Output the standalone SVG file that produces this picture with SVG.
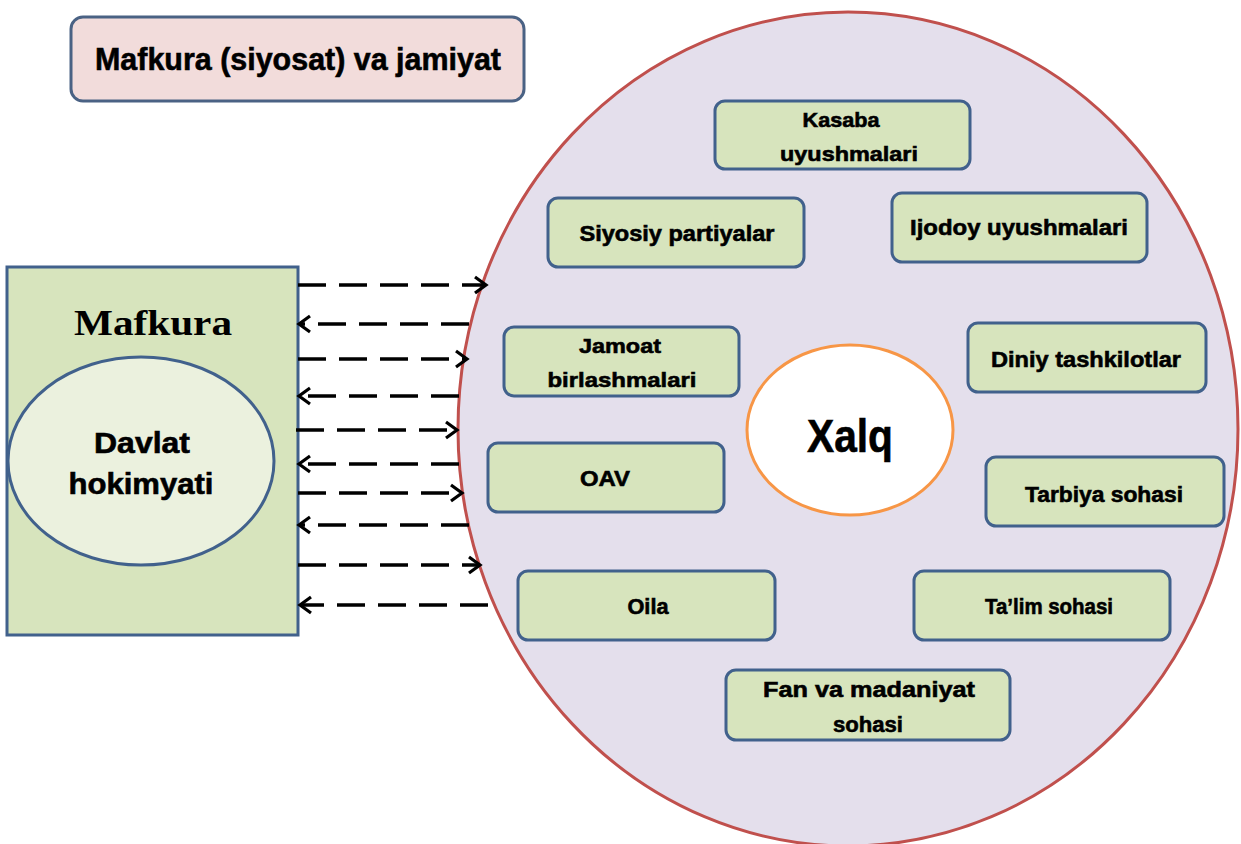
<svg xmlns="http://www.w3.org/2000/svg" width="1241" height="844" viewBox="0 0 1241 844">
<defs>
<marker id="arr" markerUnits="userSpaceOnUse" markerWidth="18" markerHeight="20" refX="13" refY="10" orient="auto">
<path d="M2,2 L13,10 L2,18" fill="none" stroke="#000" stroke-width="3.2" stroke-linejoin="miter"/>
</marker>
<style>
.t{font-family:"Liberation Sans",Arial,sans-serif;font-weight:bold;fill:#000;stroke:#000;stroke-width:0.6;text-anchor:middle}
.box{fill:#d7e4bd;stroke:#41618c;stroke-width:3}
.conn line{stroke:#000;stroke-width:3.4;stroke-dasharray:28 13;marker-end:url(#arr)}
</style>
</defs>
<rect width="1241" height="844" fill="#fff"/>
<g id="title">
<rect x="71" y="17" width="453" height="84" rx="12" fill="#f2dcdb" stroke="#4a6284" stroke-width="3"/>
<text class="t" x="298" y="70" font-size="32" textLength="406" lengthAdjust="spacingAndGlyphs">Mafkura (siyosat) va jamiyat</text>
</g>
<g id="jamiyat">
<ellipse cx="848" cy="429" rx="390" ry="417" fill="#e4dfec" stroke="#c0504d" stroke-width="3"/>
</g>
<g id="mafkura">
<rect x="7" y="267" width="291" height="368" fill="#d7e4bd" stroke="#41618c" stroke-width="3"/>
<text x="153" y="335" font-family="Liberation Serif,'Times New Roman',serif" font-weight="bold" font-size="35" text-anchor="middle" textLength="158" lengthAdjust="spacingAndGlyphs">Mafkura</text>
</g>
<g id="davlat">
<ellipse cx="141" cy="461" rx="133" ry="104" fill="#ebf1de" stroke="#41618c" stroke-width="3"/>
<text class="t" x="142" y="453" font-size="29" textLength="96" lengthAdjust="spacingAndGlyphs">Davlat</text>
<text class="t" x="141" y="494" font-size="29" textLength="145" lengthAdjust="spacingAndGlyphs">hokimyati</text>
</g>
<g id="kasaba">
<rect class="box" x="715" y="101" width="255" height="68" rx="10"/>
<text class="t" x="841" y="127" font-size="21" textLength="77" lengthAdjust="spacingAndGlyphs">Kasaba</text>
<text class="t" x="849" y="161" font-size="21" textLength="138" lengthAdjust="spacingAndGlyphs">uyushmalari</text>
</g>
<g id="siyosiy">
<rect class="box" x="548" y="198" width="256" height="69" rx="10"/>
<text class="t" x="677" y="241" font-size="22" textLength="195" lengthAdjust="spacingAndGlyphs">Siyosiy partiyalar</text>
</g>
<g id="ijodoy">
<rect class="box" x="892" y="193" width="255" height="69" rx="10"/>
<text class="t" x="1019" y="235" font-size="22" textLength="218" lengthAdjust="spacingAndGlyphs">Ijodoy uyushmalari</text>
</g>
<g id="jamoat">
<rect class="box" x="504" y="327" width="235" height="69" rx="10"/>
<text class="t" x="620" y="353" font-size="21" textLength="82" lengthAdjust="spacingAndGlyphs">Jamoat</text>
<text class="t" x="622" y="387" font-size="21" textLength="149" lengthAdjust="spacingAndGlyphs">birlashmalari</text>
</g>
<g id="diniy">
<rect class="box" x="968" y="323" width="238" height="69" rx="10"/>
<text class="t" x="1086" y="367" font-size="22" textLength="190" lengthAdjust="spacingAndGlyphs">Diniy tashkilotlar</text>
</g>
<g id="xalq">
<ellipse cx="850" cy="430" rx="103" ry="85" fill="#fff" stroke="#f79646" stroke-width="3"/>
<text class="t" x="850" y="452" font-size="46" textLength="86" lengthAdjust="spacingAndGlyphs">Xalq</text>
</g>
<g id="oav">
<rect class="box" x="488" y="443" width="236" height="69" rx="10"/>
<text class="t" x="605" y="486" font-size="22" textLength="50" lengthAdjust="spacingAndGlyphs">OAV</text>
</g>
<g id="tarbiya">
<rect class="box" x="986" y="457" width="238" height="69" rx="10"/>
<text class="t" x="1104" y="502" font-size="22" textLength="158" lengthAdjust="spacingAndGlyphs">Tarbiya sohasi</text>
</g>
<g id="oila">
<rect class="box" x="518" y="571" width="257" height="69" rx="10"/>
<text class="t" x="648" y="614" font-size="22" textLength="41" lengthAdjust="spacingAndGlyphs">Oila</text>
</g>
<g id="talim">
<rect class="box" x="914" y="571" width="256" height="69" rx="10"/>
<text class="t" x="1049" y="614" font-size="22" textLength="128" lengthAdjust="spacingAndGlyphs">Ta’lim sohasi</text>
</g>
<g id="fan">
<rect class="box" x="726" y="670" width="284" height="70" rx="10"/>
<text class="t" x="869" y="697" font-size="22" textLength="212" lengthAdjust="spacingAndGlyphs">Fan va madaniyat</text>
<text class="t" x="868" y="732" font-size="22" textLength="70" lengthAdjust="spacingAndGlyphs">sohasi</text>
</g>
<g id="connectors" class="conn">
<line x1="298" y1="285" x2="486" y2="285"/>
<line x1="469" y1="324" x2="299" y2="324"/>
<line x1="298" y1="359" x2="467" y2="359"/>
<line x1="459" y1="396" x2="299" y2="396"/>
<line x1="296" y1="430" x2="457" y2="430"/>
<line x1="459" y1="464" x2="299" y2="464"/>
<line x1="298" y1="493" x2="462" y2="493"/>
<line x1="469" y1="525" x2="299" y2="525"/>
<line x1="298" y1="565" x2="480" y2="565"/>
<line x1="488" y1="605" x2="300" y2="605"/>
</g>
</svg>
